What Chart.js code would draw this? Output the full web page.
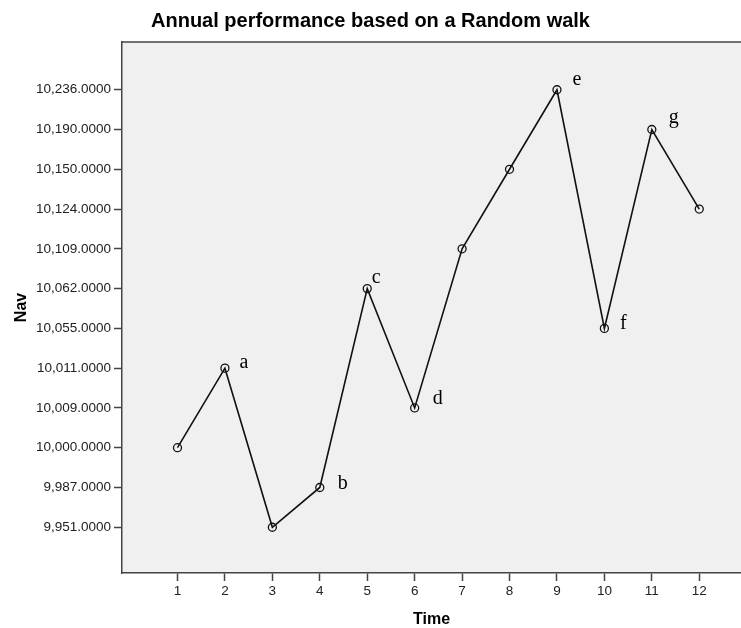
<!DOCTYPE html>
<html>
<head>
<meta charset="utf-8">
<title>Annual performance based on a Random walk</title>
<script src="https://cdn.jsdelivr.net/npm/chart.js@4"></script>
<style>
  html, body { margin: 0; padding: 0; background: #fff; }
  #wrap { width: 741px; height: 628px; }
</style>
</head>
<body>
<div id="wrap"><canvas id="navChart" width="741" height="628"></canvas></div>
<script>
// Time periods on the x axis
const timeLabels = [1, 2, 3, 4, 5, 6, 7, 8, 9, 10, 11, 12];
// Nav value at each time period
const navValues = [10000, 10011, 9951, 9987, 10062, 10009, 10109, 10150, 10236, 10055, 10190, 10124];
// The y axis is categorical (each distinct Nav value gets its own evenly spaced slot)
const navLevels = [9951, 9987, 10000, 10009, 10011, 10055, 10062, 10109, 10124, 10150, 10190, 10236];
// Letters written next to some of the points
const pointNotes = ['', 'a', '', 'b', 'c', 'd', '', '', 'e', 'f', 'g', ''];
// where each letter sits relative to its point, in pixels
const noteOffsets = [null, [19, -5], null, [23, -4], [9, -11], [23, -9], null, null, [20, -10], [19, -5], [22, -12], null];

function fmtNav(v) {
  return v.toLocaleString('en-US', { minimumFractionDigits: 4, maximumFractionDigits: 4 });
}

// grey plot background + top border
const plotBox = {
  id: 'plotBox',
  beforeDraw(chart) {
    const { ctx, chartArea: a } = chart;
    ctx.save();
    ctx.fillStyle = '#f0f0f0';
    ctx.fillRect(a.left, a.top, a.right - a.left, a.bottom - a.top);
    ctx.strokeStyle = '#444';
    ctx.lineWidth = 1.5;
    ctx.beginPath();
    ctx.moveTo(a.left, a.top);
    ctx.lineTo(a.right, a.top);
    ctx.stroke();
    ctx.restore();
  }
};

// the letters a..g
const notes = {
  id: 'notes',
  afterDatasetsDraw(chart) {
    const { ctx } = chart;
    const meta = chart.getDatasetMeta(0);
    ctx.save();
    ctx.font = '20px "Liberation Serif", "Times New Roman", serif';
    ctx.fillStyle = '#000';
    ctx.textAlign = 'center';
    ctx.textBaseline = 'middle';
    meta.data.forEach((pt, i) => {
      if (!pointNotes[i]) return;
      const off = noteOffsets[i];
      ctx.fillText(pointNotes[i], pt.x + off[0], pt.y + off[1]);
    });
    ctx.restore();
  }
};

const ctx = document.getElementById('navChart').getContext('2d');
const navChart = new Chart(ctx, {
  type: 'line',
  data: {
    datasets: [{
      label: 'Nav',
      data: timeLabels.map((t, i) => ({ x: t, y: navLevels.indexOf(navValues[i]) })),
      borderColor: '#111',
      borderWidth: 1.6,
      pointRadius: 4,
      pointHoverRadius: 4,
      pointBorderWidth: 1.3,
      pointBorderColor: '#111',
      pointBackgroundColor: 'rgba(0,0,0,0)',
      fill: false,
      tension: 0
    }]
  },
  options: {
    responsive: false,
    animation: false,
    layout: { padding: 0, autoPadding: false },
    plugins: {
      legend: { display: false },
      tooltip: { enabled: false },
      title: {
        display: true,
        text: 'Annual performance based on a Random walk',
        color: '#000',
        font: { family: '"Liberation Sans", Arial, sans-serif', size: 20, weight: 'bold', lineHeight: 1.2 },
        padding: { top: 9, bottom: 9 }
      }
    },
    scales: {
      x: {
        type: 'linear',
        min: -0.17,
        max: 12.88,
        afterBuildTicks(scale) { scale.ticks = timeLabels.map(v => ({ value: v })); },
        afterFit(scale) {
          scale.height = 55;
          scale.paddingLeft = 0;
          scale.paddingRight = 0;
        },
        ticks: {
          color: '#222',
          font: { family: '"Liberation Sans", Arial, sans-serif', size: 13.5 },
          padding: 2,
          maxRotation: 0,
          autoSkip: false
        },
        grid: { drawOnChartArea: false, drawTicks: true, tickLength: 8, tickColor: '#444', tickWidth: 1.5 },
        border: { display: true, color: '#444', width: 1.5 },
        title: {
          display: true,
          text: 'Time',
          color: '#000',
          font: { family: '"Liberation Sans", Arial, sans-serif', size: 16, weight: 'bold', lineHeight: 1 },
          padding: { top: 0, bottom: 0 }
        }
      },
      y: {
        type: 'linear',
        min: -1.15,
        max: 12.2,
        afterBuildTicks(scale) { scale.ticks = navLevels.map((v, i) => ({ value: i })); },
        afterFit(scale) {
          scale.width = 122;
          scale.paddingTop = 0;
          scale.paddingBottom = 0;
        },
        ticks: {
          color: '#222',
          font: { family: '"Liberation Sans", Arial, sans-serif', size: 13.5 },
          padding: 3,
          autoSkip: false,
          callback: (v) => fmtNav(navLevels[v])
        },
        grid: { drawOnChartArea: false, drawTicks: true, tickLength: 8, tickColor: '#444', tickWidth: 1.5 },
        border: { display: true, color: '#444', width: 1.5 },
        title: {
          display: true,
          text: 'Nav',
          color: '#000',
          font: { family: '"Liberation Sans", Arial, sans-serif', size: 16, weight: 'bold', lineHeight: 1 },
          padding: { top: 14, bottom: 0 }
        }
      }
    }
  },
  plugins: [plotBox, notes]
});
</script>
</body>
</html>
